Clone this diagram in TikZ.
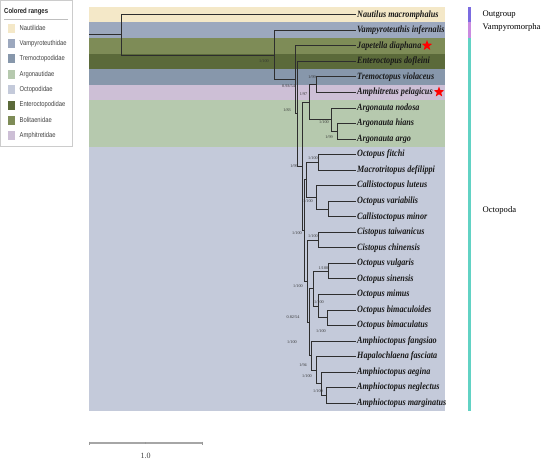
\documentclass[tikz,border=0pt]{standalone}
\usepackage{fontspec}
\setmainfont{Liberation Serif}
\newfontfamily\taxfont[FakeStretch=0.85]{Liberation Serif}
\newfontfamily\legfont[FakeStretch=0.82]{Liberation Sans}
\usetikzlibrary{shapes.geometric}
\definecolor{nautC}{HTML}{F4E8C8}
\definecolor{vampC}{HTML}{9CA8BE}
\definecolor{boliC}{HTML}{7E8C57}
\definecolor{enteC}{HTML}{5B6A3A}
\definecolor{tremC}{HTML}{8797AB}
\definecolor{amphC}{HTML}{CDBFD6}
\definecolor{argoC}{HTML}{B6C9AE}
\definecolor{octoC}{HTML}{C4CADA}
\definecolor{linec}{HTML}{2E2E2E}
\definecolor{outC}{HTML}{7B6BE0}
\definecolor{vmorC}{HTML}{C98BE0}
\definecolor{octbarC}{HTML}{62D2C4}
\begin{document}
\begin{tikzpicture}[x=1pt,y=-1pt,
  br/.style={draw=linec, line width=0.8pt},
  tax/.style={anchor=west, inner xsep=1pt, inner ysep=0pt, font=\taxfont\bfseries\itshape\fontsize{9.6}{10}\selectfont, text=black!90},
  bs/.style={font=\fontsize{4.2}{4.5}\selectfont, inner sep=0pt, text=black!80},
  leg/.style={anchor=west, inner sep=0pt, font=\legfont\fontsize{7.1}{8}\selectfont, text=black!75},
  legsq/.style={minimum width=7pt, minimum height=9pt, inner sep=0pt},
  clade/.style={anchor=west, inner sep=0pt, font=\fontsize{8.6}{10}\selectfont},
  redstar/.style={star, star points=5, star point ratio=2.4, fill=red, draw=none, minimum size=11pt, inner sep=0pt}]
\useasboundingbox (0,0) rectangle (550,464);
\fill[white] (0,0) rectangle (550,464);
% colored ranges
\fill[nautC] (89,6.93) rectangle (445,22.47);
\fill[vampC] (89,22.47) rectangle (445,38.01);
\fill[boliC] (89,38.01) rectangle (445,53.55);
\fill[enteC] (89,53.55) rectangle (445,69.09);
\fill[tremC] (89,69.09) rectangle (445,84.63);
\fill[amphC] (89,84.63) rectangle (445,100.17);
\fill[argoC] (89,100.17) rectangle (445,146.79);
\fill[octoC] (89,146.79) rectangle (445,410.97);
% legend
\draw[black!20, line width=0.5pt] (0.3,0.3) rectangle (72,146);
\node[anchor=west, inner sep=0pt, font=\legfont\bfseries\fontsize{7.3}{8}\selectfont, text=black!85] (legtitle) at (4,11.5) {Colored ranges};
\draw[black!25, line width=0.5pt] (4,19) -- (68,19);
\node[legsq, fill=nautC] (q1) at (11.5,28) {};
\node[legsq, fill=vampC] (q2) at (11.5,43.4) {};
\node[legsq, fill=tremC] (q3) at (11.5,58.8) {};
\node[legsq, fill=argoC] (q4) at (11.5,74.2) {};
\node[legsq, fill=octoC] (q5) at (11.5,89.6) {};
\node[legsq, fill=enteC] (q6) at (11.5,105) {};
\node[legsq, fill=boliC] (q7) at (11.5,120.4) {};
\node[legsq, fill=amphC] (q8) at (11.5,135.8) {};
\node[leg] (l1) at (19.5,28) {Nautilidae};
\node[leg] (l2) at (19.5,43.4) {Vampyroteuthidae};
\node[leg] (l3) at (19.5,58.8) {Tremoctopodidae};
\node[leg] (l4) at (19.5,74.2) {Argonautidae};
\node[leg] (l5) at (19.5,89.6) {Octopodidae};
\node[leg] (l6) at (19.5,105) {Enteroctopodidae};
\node[leg] (l7) at (19.5,120.4) {Bolitaenidae};
\node[leg] (l8) at (19.5,135.8) {Amphitretidae};
% taxa
\node[tax] (t1) at (356,14.70) {Nautilus macromphalus};
\node[tax] (t2) at (356,30.24) {Vampyroteuthis infernalis};
\node[tax] (t3) at (356,45.78) {Japetella diaphana};
\node[tax] (t4) at (356,61.32) {Enteroctopus dofleini};
\node[tax] (t5) at (356,76.86) {Tremoctopus violaceus};
\node[tax] (t6) at (356,92.40) {Amphitretus pelagicus};
\node[tax] (t7) at (356,107.94) {Argonauta nodosa};
\node[tax] (t8) at (356,123.48) {Argonauta hians};
\node[tax] (t9) at (356,139.02) {Argonauta argo};
\node[tax] (t10) at (356,154.56) {Octopus fitchi};
\node[tax] (t11) at (356,170.10) {Macrotritopus defilippi};
\node[tax] (t12) at (356,185.64) {Callistoctopus luteus};
\node[tax] (t13) at (356,201.18) {Octopus variabilis};
\node[tax] (t14) at (356,216.72) {Callistoctopus minor};
\node[tax] (t15) at (356,232.26) {Cistopus taiwanicus};
\node[tax] (t16) at (356,247.80) {Cistopus chinensis};
\node[tax] (t17) at (356,263.34) {Octopus vulgaris};
\node[tax] (t18) at (356,278.88) {Octopus sinensis};
\node[tax] (t19) at (356,294.42) {Octopus mimus};
\node[tax] (t20) at (356,309.96) {Octopus bimaculoides};
\node[tax] (t21) at (356,325.50) {Octopus bimaculatus};
\node[tax] (t22) at (356,341.04) {Amphioctopus fangsiao};
\node[tax] (t23) at (356,356.58) {Hapalochlaena fasciata};
\node[tax] (t24) at (356,372.12) {Amphioctopus aegina};
\node[tax] (t25) at (356,387.66) {Amphioctopus neglectus};
\node[tax] (t26) at (356,403.20) {Amphioctopus marginatus};
% stars
\node[redstar] (s1) at (427,45.5) {};
\node[redstar] (s2) at (439,92) {};
% internal nodes
\coordinate (stem) at (89,34.85);
\coordinate (R) at (121,34.85);
\coordinate (A) at (274,55.0);
\coordinate (B) at (295,79.8);
\coordinate (C) at (297,113.8);
\coordinate (D) at (302,166.25);
\coordinate (E) at (309,102.1);
\coordinate (TA) at (316,84.63);
\coordinate (ARG) at (331,119.6);
\coordinate (HA) at (337,131.25);
\coordinate (F) at (304,230.4);
\coordinate (G) at (306,179.8);
\coordinate (FM) at (318,162.33);
\coordinate (L) at (316,197.3);
\coordinate (VM) at (328,208.95);
\coordinate (H) at (307,281.07);
\coordinate (CI) at (318,240.03);
\coordinate (I) at (309,322.1);
\coordinate (J) at (313,288.6);
\coordinate (VS) at (328,271.11);
\coordinate (MB) at (318,306.08);
\coordinate (BB) at (327,317.73);
\coordinate (K) at (311,355.61);
\coordinate (HP) at (316,370.18);
\coordinate (AE) at (321,383.78);
\coordinate (NM) at (326,395.43);
% branches
\draw[br] (stem) -- (R);
\draw[br] (R) |- (t1.west);
\draw[br] (R) |- (A);
\draw[br] (A) |- (t2.west);
\draw[br] (A) |- (B);
\draw[br] (B) |- (t3.west);
\draw[br] (B) |- (C);
\draw[br] (C) |- (t4.west);
\draw[br] (C) |- (D);
\draw[br] (D) |- (E);
\draw[br] (D) |- (F);
\draw[br] (E) |- (TA);
\draw[br] (E) |- (ARG);
\draw[br] (TA) |- (t5.west);
\draw[br] (TA) |- (t6.west);
\draw[br] (ARG) |- (t7.west);
\draw[br] (ARG) |- (HA);
\draw[br] (HA) |- (t8.west);
\draw[br] (HA) |- (t9.west);
\draw[br] (F) |- (G);
\draw[br] (F) |- (H);
\draw[br] (G) |- (FM);
\draw[br] (G) |- (L);
\draw[br] (FM) |- (t10.west);
\draw[br] (FM) |- (t11.west);
\draw[br] (L) |- (t12.west);
\draw[br] (L) |- (VM);
\draw[br] (VM) |- (t13.west);
\draw[br] (VM) |- (t14.west);
\draw[br] (H) |- (CI);
\draw[br] (H) |- (I);
\draw[br] (CI) |- (t15.west);
\draw[br] (CI) |- (t16.west);
\draw[br] (I) |- (J);
\draw[br] (I) |- (K);
\draw[br] (J) |- (VS);
\draw[br] (J) |- (MB);
\draw[br] (VS) |- (t17.west);
\draw[br] (VS) |- (t18.west);
\draw[br] (MB) |- (t19.west);
\draw[br] (MB) |- (BB);
\draw[br] (BB) |- (t20.west);
\draw[br] (BB) |- (t21.west);
\draw[br] (K) |- (t22.west);
\draw[br] (K) |- (HP);
\draw[br] (HP) |- (t23.west);
\draw[br] (HP) |- (AE);
\draw[br] (AE) |- (t24.west);
\draw[br] (AE) |- (NM);
\draw[br] (NM) |- (t25.west);
\draw[br] (NM) |- (t26.west);
% support values
\node[bs] (bA) at (264,61) {1/100};
\node[bs] (bB) at (288.5,86.5) {0.93/54};
\node[bs] (bC) at (287,110) {1/83};
\node[bs] (bD) at (294,166) {1/99};
\node[bs] (bE) at (303.5,94.5) {1/97};
\node[bs] (bTA) at (312,77) {1/99};
\node[bs] (bARG) at (324,122.5) {1/100};
\node[bs] (bHA) at (329,137) {1/99};
\node[bs] (bFM) at (313,158) {1/100};
\node[bs] (bL) at (308,201) {1/100};
\node[bs] (bF) at (297,233.5) {1/100};
\node[bs] (bCI) at (313,236) {1/100};
\node[bs] (bVS) at (323.5,268) {1/100};
\node[bs] (bH) at (298,286) {1/100};
\node[bs] (bMB) at (319,302) {1/100};
\node[bs] (bI) at (293,317) {0.82/54};
\node[bs] (bBB) at (321,331.5) {1/100};
\node[bs] (bK) at (292,342) {1/100};
\node[bs] (bHP) at (303,365) {1/94};
\node[bs] (bAE) at (307,376.5) {1/100};
\node[bs] (bNM) at (318,391) {1/100};
% clade bars
\fill[outC] (468,6.93) rectangle (470.6,22.47);
\fill[vmorC] (468,22.47) rectangle (470.6,38.01);
\fill[octbarC] (468,38.01) rectangle (470.6,410.97);
\node[clade] (c1) at (482.5,15) {Outgroup};
\node[clade] (c2) at (482.5,27) {Vampyromorpha};
\node[clade] (c3) at (482.5,210) {Octopoda};
% scale bar
\coordinate (sb1) at (89,443);
\coordinate (sb2) at (202,443);
\draw[black!35, line width=1.1pt] (sb1) -- (sb2);
\draw[black!40, line width=0.5pt] (89,441.5) -- (89,444.5) (202,441.5) -- (202,444.5) (145.5,442) -- (145.5,444);
\node[font=\fontsize{8}{9}\selectfont, inner sep=0pt, text=black!75] (sbl) at (145.5,455.5) {1.0};
\end{tikzpicture}
\end{document}
